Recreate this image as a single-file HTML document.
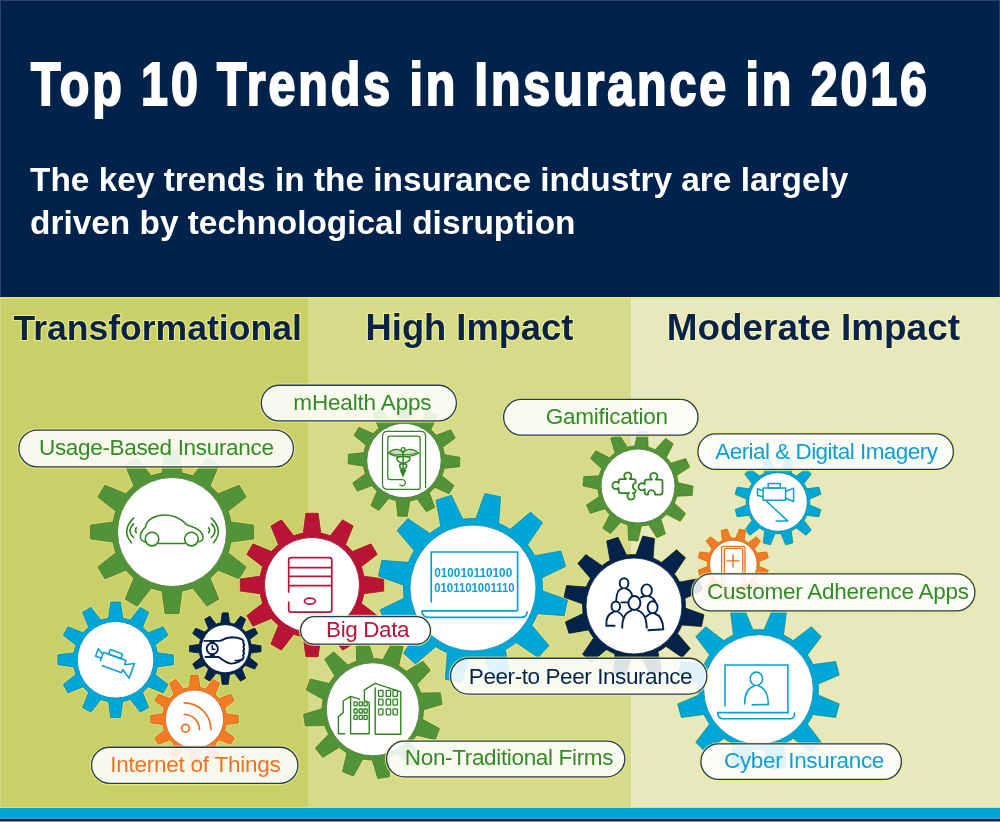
<!DOCTYPE html>
<html><head><meta charset="utf-8"><style>
html,body{margin:0;padding:0;background:#fff;}
body{width:1000px;height:822px;overflow:hidden;}
svg{display:block;font-family:"Liberation Sans",sans-serif;will-change:transform;}
</style></head><body>
<svg width="1000" height="822" viewBox="0 0 1000 822">
<rect x="0" y="0" width="1000" height="297" fill="#00224b"/>
<rect x="0" y="297" width="308" height="511" fill="#c9d06a"/>
<rect x="308" y="297" width="323.5" height="511" fill="#d6db8a"/>
<rect x="631.5" y="297" width="368.5" height="511" fill="#e7e9bd"/>
<rect x="0" y="297" width="1000" height="2" fill="#e9ee66" opacity="0.7"/>
<rect x="0" y="0" width="1" height="808" fill="#fff" opacity="0.16"/>
<rect x="0" y="807" width="1000" height="1.5" fill="#f2dc5a" opacity="0.8"/>
<rect x="0" y="808" width="1000" height="11" fill="#00a6d4"/>
<rect x="0" y="819" width="1000" height="2" fill="#04143c"/>
<rect x="0" y="821" width="1000" height="1" fill="#8e9bb0"/>
<rect x="0" y="0" width="1000" height="1" fill="#2d4568"/>
<rect x="999" y="0" width="1" height="297" fill="#21406a"/>
<g transform="translate(31,105) scale(0.78,1)"><text x="0" y="0" fill="#fff" stroke="#fff" stroke-width="2.2" letter-spacing="3.74" font-size="62" font-weight="700">Top 10 Trends in Insurance in 2016</text></g>
<text x="30" y="191" fill="#fff" font-size="33.4" font-weight="700">The key trends in the insurance industry are largely</text>
<text x="30" y="234" fill="#fff" font-size="33.4" font-weight="700">driven by technological disruption</text>
<text x="13.4" y="340" fill="#0a2148" font-size="35.55" font-weight="700" stroke="rgba(250,248,140,0.75)" stroke-width="2.2" paint-order="stroke">Transformational</text>
<text x="365.6" y="340" fill="#0a2148" font-size="36.3" font-weight="700" stroke="rgba(250,248,140,0.75)" stroke-width="2.2" paint-order="stroke">High Impact</text>
<text x="666.8" y="340" fill="#0a2148" font-size="36.9" font-weight="700" stroke="rgba(250,250,190,0.75)" stroke-width="2.2" paint-order="stroke">Moderate Impact</text>
<path d="M231.01,521.96 L253.70,525.03 L253.70,538.97 L231.01,542.04 L230.48,544.78 L229.82,547.49 L229.04,550.17 L228.13,552.81 L246.24,566.82 L239.27,578.89 L218.08,570.20 L216.25,572.31 L214.33,574.33 L212.31,576.25 L210.20,578.08 L218.89,599.27 L206.82,606.24 L192.81,588.13 L190.17,589.04 L187.49,589.82 L184.78,590.48 L182.05,591.01 L178.97,613.70 L165.03,613.70 L161.95,591.01 L159.22,590.48 L156.51,589.82 L153.83,589.04 L151.19,588.13 L137.18,606.24 L125.11,599.27 L133.80,578.08 L131.69,576.25 L129.67,574.33 L127.75,572.31 L125.92,570.20 L104.73,578.89 L97.76,566.82 L115.87,552.81 L114.96,550.17 L114.18,547.49 L113.52,544.78 L112.99,542.04 L90.30,538.97 L90.30,525.03 L112.99,521.96 L113.52,519.22 L114.18,516.51 L114.96,513.83 L115.87,511.19 L97.76,497.18 L104.73,485.11 L125.92,493.80 L127.75,491.69 L129.67,489.67 L131.69,487.75 L133.80,485.92 L125.11,464.73 L137.18,457.76 L151.19,475.87 L153.83,474.96 L156.51,474.18 L159.22,473.52 L161.95,472.99 L165.03,450.30 L178.97,450.30 L182.04,472.99 L184.78,473.52 L187.49,474.18 L190.17,474.96 L192.81,475.87 L206.82,457.76 L218.89,464.73 L210.20,485.92 L212.31,487.75 L214.33,489.67 L216.25,491.69 L218.08,493.80 L239.27,485.11 L246.24,497.18 L228.13,511.19 L229.04,513.83 L229.82,516.51 L230.48,519.22Z" fill="#52933a" stroke="rgba(245,235,115,0.65)" stroke-width="2.4" paint-order="stroke"/>
<path d="M231.01,521.96 L253.70,525.03 L253.70,538.97 L231.01,542.04 L230.48,544.78 L229.82,547.49 L229.04,550.17 L228.13,552.81 L246.24,566.82 L239.27,578.89 L218.08,570.20 L216.25,572.31 L214.33,574.33 L212.31,576.25 L210.20,578.08 L218.89,599.27 L206.82,606.24 L192.81,588.13 L190.17,589.04 L187.49,589.82 L184.78,590.48 L182.05,591.01 L178.97,613.70 L165.03,613.70 L161.95,591.01 L159.22,590.48 L156.51,589.82 L153.83,589.04 L151.19,588.13 L137.18,606.24 L125.11,599.27 L133.80,578.08 L131.69,576.25 L129.67,574.33 L127.75,572.31 L125.92,570.20 L104.73,578.89 L97.76,566.82 L115.87,552.81 L114.96,550.17 L114.18,547.49 L113.52,544.78 L112.99,542.04 L90.30,538.97 L90.30,525.03 L112.99,521.96 L113.52,519.22 L114.18,516.51 L114.96,513.83 L115.87,511.19 L97.76,497.18 L104.73,485.11 L125.92,493.80 L127.75,491.69 L129.67,489.67 L131.69,487.75 L133.80,485.92 L125.11,464.73 L137.18,457.76 L151.19,475.87 L153.83,474.96 L156.51,474.18 L159.22,473.52 L161.95,472.99 L165.03,450.30 L178.97,450.30 L182.04,472.99 L184.78,473.52 L187.49,474.18 L190.17,474.96 L192.81,475.87 L206.82,457.76 L218.89,464.73 L210.20,485.92 L212.31,487.75 L214.33,489.67 L216.25,491.69 L218.08,493.80 L239.27,485.11 L246.24,497.18 L228.13,511.19 L229.04,513.83 L229.82,516.51 L230.48,519.22Z" fill="none" stroke="#43782f" stroke-width="0.9" stroke-opacity="0.85"/>
<circle cx="172" cy="532" r="58.86" fill="#52933a"/>
<circle cx="172" cy="532" r="54.5" fill="#fff" stroke="#43782f" stroke-width="1" stroke-opacity="0.8"/>
<path d="M363.81,576.18 L383.74,578.88 L383.74,591.12 L363.81,593.82 L363.35,596.22 L362.77,598.60 L362.08,600.95 L361.28,603.27 L377.19,615.57 L371.07,626.17 L352.46,618.55 L350.86,620.39 L349.17,622.17 L347.39,623.86 L345.55,625.46 L353.17,644.07 L342.57,650.19 L330.27,634.28 L327.95,635.08 L325.60,635.77 L323.22,636.35 L320.82,636.81 L318.12,656.74 L305.88,656.74 L303.18,636.81 L300.78,636.35 L298.40,635.77 L296.05,635.08 L293.73,634.28 L281.43,650.19 L270.83,644.07 L278.45,625.46 L276.61,623.86 L274.83,622.17 L273.14,620.39 L271.54,618.55 L252.93,626.17 L246.81,615.57 L262.72,603.27 L261.92,600.95 L261.23,598.60 L260.65,596.22 L260.19,593.82 L240.26,591.12 L240.26,578.88 L260.19,576.18 L260.65,573.78 L261.23,571.40 L261.92,569.05 L262.72,566.73 L246.81,554.43 L252.93,543.83 L271.54,551.45 L273.14,549.61 L274.83,547.83 L276.61,546.14 L278.45,544.54 L270.83,525.93 L281.43,519.81 L293.73,535.72 L296.05,534.92 L298.40,534.23 L300.78,533.65 L303.18,533.19 L305.88,513.26 L318.12,513.26 L320.82,533.19 L323.22,533.65 L325.60,534.23 L327.95,534.92 L330.27,535.72 L342.57,519.81 L353.17,525.93 L345.55,544.54 L347.39,546.14 L349.17,547.83 L350.86,549.61 L352.46,551.45 L371.07,543.83 L377.19,554.43 L361.28,566.73 L362.08,569.05 L362.77,571.40 L363.35,573.78Z" fill="#b91336" stroke="rgba(245,235,115,0.65)" stroke-width="2.4" paint-order="stroke"/>
<path d="M363.81,576.18 L383.74,578.88 L383.74,591.12 L363.81,593.82 L363.35,596.22 L362.77,598.60 L362.08,600.95 L361.28,603.27 L377.19,615.57 L371.07,626.17 L352.46,618.55 L350.86,620.39 L349.17,622.17 L347.39,623.86 L345.55,625.46 L353.17,644.07 L342.57,650.19 L330.27,634.28 L327.95,635.08 L325.60,635.77 L323.22,636.35 L320.82,636.81 L318.12,656.74 L305.88,656.74 L303.18,636.81 L300.78,636.35 L298.40,635.77 L296.05,635.08 L293.73,634.28 L281.43,650.19 L270.83,644.07 L278.45,625.46 L276.61,623.86 L274.83,622.17 L273.14,620.39 L271.54,618.55 L252.93,626.17 L246.81,615.57 L262.72,603.27 L261.92,600.95 L261.23,598.60 L260.65,596.22 L260.19,593.82 L240.26,591.12 L240.26,578.88 L260.19,576.18 L260.65,573.78 L261.23,571.40 L261.92,569.05 L262.72,566.73 L246.81,554.43 L252.93,543.83 L271.54,551.45 L273.14,549.61 L274.83,547.83 L276.61,546.14 L278.45,544.54 L270.83,525.93 L281.43,519.81 L293.73,535.72 L296.05,534.92 L298.40,534.23 L300.78,533.65 L303.18,533.19 L305.88,513.26 L318.12,513.26 L320.82,533.19 L323.22,533.65 L325.60,534.23 L327.95,534.92 L330.27,535.72 L342.57,519.81 L353.17,525.93 L345.55,544.54 L347.39,546.14 L349.17,547.83 L350.86,549.61 L352.46,551.45 L371.07,543.83 L377.19,554.43 L361.28,566.73 L362.08,569.05 L362.77,571.40 L363.35,573.78Z" fill="none" stroke="#970f2c" stroke-width="0.9" stroke-opacity="0.85"/>
<circle cx="312" cy="585" r="51.56" fill="#b91336"/>
<circle cx="312" cy="585" r="47.5" fill="#fff" stroke="#970f2c" stroke-width="1" stroke-opacity="0.8"/>
<path d="M542.51,590.84 L567.56,599.82 L564.20,615.67 L537.66,613.68 L536.39,616.66 L534.99,619.58 L533.45,622.44 L531.78,625.21 L548.99,645.52 L538.15,657.56 L516.16,642.57 L513.57,644.52 L510.89,646.35 L508.13,648.05 L505.30,649.62 L510.05,675.80 L494.64,680.81 L483.09,656.83 L479.87,657.23 L476.64,657.47 L473.40,657.57 L470.16,657.51 L461.18,682.56 L445.33,679.20 L447.32,652.66 L444.34,651.39 L441.42,649.99 L438.56,648.45 L435.79,646.78 L415.48,663.99 L403.44,653.15 L418.43,631.16 L416.48,628.57 L414.65,625.89 L412.95,623.13 L411.38,620.30 L385.20,625.05 L380.19,609.64 L404.17,598.09 L403.77,594.87 L403.53,591.64 L403.43,588.40 L403.49,585.16 L378.44,576.18 L381.80,560.33 L408.34,562.32 L409.61,559.34 L411.01,556.42 L412.55,553.56 L414.22,550.79 L397.01,530.48 L407.85,518.44 L429.84,533.43 L432.43,531.48 L435.11,529.65 L437.87,527.95 L440.70,526.38 L435.95,500.20 L451.36,495.19 L462.91,519.17 L466.13,518.77 L469.36,518.53 L472.60,518.43 L475.84,518.49 L484.82,493.44 L500.67,496.80 L498.68,523.34 L501.66,524.61 L504.58,526.01 L507.44,527.55 L510.21,529.22 L530.52,512.01 L542.56,522.85 L527.57,544.84 L529.52,547.43 L531.35,550.11 L533.05,552.87 L534.62,555.70 L560.80,550.95 L565.81,566.36 L541.83,577.91 L542.23,581.13 L542.47,584.36 L542.57,587.60Z" fill="#00a7d6" stroke="rgba(245,235,115,0.65)" stroke-width="2.4" paint-order="stroke"/>
<path d="M542.51,590.84 L567.56,599.82 L564.20,615.67 L537.66,613.68 L536.39,616.66 L534.99,619.58 L533.45,622.44 L531.78,625.21 L548.99,645.52 L538.15,657.56 L516.16,642.57 L513.57,644.52 L510.89,646.35 L508.13,648.05 L505.30,649.62 L510.05,675.80 L494.64,680.81 L483.09,656.83 L479.87,657.23 L476.64,657.47 L473.40,657.57 L470.16,657.51 L461.18,682.56 L445.33,679.20 L447.32,652.66 L444.34,651.39 L441.42,649.99 L438.56,648.45 L435.79,646.78 L415.48,663.99 L403.44,653.15 L418.43,631.16 L416.48,628.57 L414.65,625.89 L412.95,623.13 L411.38,620.30 L385.20,625.05 L380.19,609.64 L404.17,598.09 L403.77,594.87 L403.53,591.64 L403.43,588.40 L403.49,585.16 L378.44,576.18 L381.80,560.33 L408.34,562.32 L409.61,559.34 L411.01,556.42 L412.55,553.56 L414.22,550.79 L397.01,530.48 L407.85,518.44 L429.84,533.43 L432.43,531.48 L435.11,529.65 L437.87,527.95 L440.70,526.38 L435.95,500.20 L451.36,495.19 L462.91,519.17 L466.13,518.77 L469.36,518.53 L472.60,518.43 L475.84,518.49 L484.82,493.44 L500.67,496.80 L498.68,523.34 L501.66,524.61 L504.58,526.01 L507.44,527.55 L510.21,529.22 L530.52,512.01 L542.56,522.85 L527.57,544.84 L529.52,547.43 L531.35,550.11 L533.05,552.87 L534.62,555.70 L560.80,550.95 L565.81,566.36 L541.83,577.91 L542.23,581.13 L542.47,584.36 L542.57,587.60Z" fill="none" stroke="#0088af" stroke-width="0.9" stroke-opacity="0.85"/>
<circle cx="473" cy="588" r="68.569" fill="#00a7d6"/>
<circle cx="473" cy="588" r="63" fill="#fff" stroke="#0088af" stroke-width="1" stroke-opacity="0.8"/>
<path d="M444.47,454.70 L459.90,457.20 L459.65,466.72 L444.11,468.41 L443.69,470.27 L443.20,472.11 L442.61,473.92 L441.95,475.71 L454.06,485.60 L449.09,493.71 L434.78,487.41 L433.49,488.81 L432.14,490.15 L430.73,491.43 L429.26,492.64 L434.81,507.26 L426.44,511.81 L417.20,499.19 L415.38,499.76 L413.54,500.25 L411.68,500.65 L409.80,500.97 L407.30,516.40 L397.78,516.15 L396.09,500.61 L394.23,500.19 L392.39,499.70 L390.58,499.11 L388.79,498.45 L378.90,510.56 L370.79,505.59 L377.09,491.28 L375.69,489.99 L374.35,488.64 L373.07,487.23 L371.86,485.76 L357.24,491.31 L352.69,482.94 L365.31,473.70 L364.74,471.88 L364.25,470.04 L363.85,468.18 L363.53,466.30 L348.10,463.80 L348.35,454.28 L363.89,452.59 L364.31,450.73 L364.80,448.89 L365.39,447.08 L366.05,445.29 L353.94,435.40 L358.91,427.29 L373.22,433.59 L374.51,432.19 L375.86,430.85 L377.27,429.57 L378.74,428.36 L373.19,413.74 L381.56,409.19 L390.80,421.81 L392.62,421.24 L394.46,420.75 L396.32,420.35 L398.20,420.03 L400.70,404.60 L410.22,404.85 L411.91,420.39 L413.77,420.81 L415.61,421.30 L417.42,421.89 L419.21,422.55 L429.10,410.44 L437.21,415.41 L430.91,429.72 L432.31,431.01 L433.65,432.36 L434.93,433.77 L436.14,435.24 L450.76,429.69 L455.31,438.06 L442.69,447.30 L443.26,449.12 L443.75,450.96 L444.15,452.82Z" fill="#52933a" stroke="rgba(245,235,115,0.65)" stroke-width="2.4" paint-order="stroke"/>
<path d="M444.47,454.70 L459.90,457.20 L459.65,466.72 L444.11,468.41 L443.69,470.27 L443.20,472.11 L442.61,473.92 L441.95,475.71 L454.06,485.60 L449.09,493.71 L434.78,487.41 L433.49,488.81 L432.14,490.15 L430.73,491.43 L429.26,492.64 L434.81,507.26 L426.44,511.81 L417.20,499.19 L415.38,499.76 L413.54,500.25 L411.68,500.65 L409.80,500.97 L407.30,516.40 L397.78,516.15 L396.09,500.61 L394.23,500.19 L392.39,499.70 L390.58,499.11 L388.79,498.45 L378.90,510.56 L370.79,505.59 L377.09,491.28 L375.69,489.99 L374.35,488.64 L373.07,487.23 L371.86,485.76 L357.24,491.31 L352.69,482.94 L365.31,473.70 L364.74,471.88 L364.25,470.04 L363.85,468.18 L363.53,466.30 L348.10,463.80 L348.35,454.28 L363.89,452.59 L364.31,450.73 L364.80,448.89 L365.39,447.08 L366.05,445.29 L353.94,435.40 L358.91,427.29 L373.22,433.59 L374.51,432.19 L375.86,430.85 L377.27,429.57 L378.74,428.36 L373.19,413.74 L381.56,409.19 L390.80,421.81 L392.62,421.24 L394.46,420.75 L396.32,420.35 L398.20,420.03 L400.70,404.60 L410.22,404.85 L411.91,420.39 L413.77,420.81 L415.61,421.30 L417.42,421.89 L419.21,422.55 L429.10,410.44 L437.21,415.41 L430.91,429.72 L432.31,431.01 L433.65,432.36 L434.93,433.77 L436.14,435.24 L450.76,429.69 L455.31,438.06 L442.69,447.30 L443.26,449.12 L443.75,450.96 L444.15,452.82Z" fill="none" stroke="#43782f" stroke-width="0.9" stroke-opacity="0.85"/>
<circle cx="404" cy="460.5" r="39.879999999999995" fill="#52933a"/>
<circle cx="404" cy="460.5" r="37.2" fill="#fff" stroke="#43782f" stroke-width="1" stroke-opacity="0.8"/>
<path d="M678.02,482.74 L693.00,486.12 L692.18,495.43 L676.84,496.16 L676.33,497.96 L675.73,499.73 L675.05,501.47 L674.29,503.18 L685.57,513.60 L680.21,521.26 L666.56,514.22 L665.21,515.52 L663.81,516.76 L662.35,517.93 L660.83,519.02 L665.40,533.69 L656.92,537.64 L648.62,524.72 L646.81,525.17 L644.97,525.54 L643.12,525.82 L641.26,526.02 L637.88,541.00 L628.57,540.18 L627.84,524.84 L626.04,524.33 L624.27,523.73 L622.53,523.05 L620.82,522.29 L610.40,533.57 L602.74,528.21 L609.78,514.56 L608.48,513.21 L607.24,511.81 L606.07,510.35 L604.98,508.83 L590.31,513.40 L586.36,504.92 L599.28,496.62 L598.83,494.81 L598.46,492.97 L598.18,491.12 L597.98,489.26 L583.00,485.88 L583.82,476.57 L599.16,475.84 L599.67,474.04 L600.27,472.27 L600.95,470.53 L601.71,468.82 L590.43,458.40 L595.79,450.74 L609.44,457.78 L610.79,456.48 L612.19,455.24 L613.65,454.07 L615.17,452.98 L610.60,438.31 L619.08,434.36 L627.38,447.28 L629.19,446.83 L631.03,446.46 L632.88,446.18 L634.74,445.98 L638.12,431.00 L647.43,431.82 L648.16,447.16 L649.96,447.67 L651.73,448.27 L653.47,448.95 L655.18,449.71 L665.60,438.43 L673.26,443.79 L666.22,457.44 L667.52,458.79 L668.76,460.19 L669.93,461.65 L671.02,463.17 L685.69,458.60 L689.64,467.08 L676.72,475.38 L677.17,477.19 L677.54,479.03 L677.82,480.88Z" fill="#52933a" stroke="rgba(245,235,115,0.65)" stroke-width="2.4" paint-order="stroke"/>
<path d="M678.02,482.74 L693.00,486.12 L692.18,495.43 L676.84,496.16 L676.33,497.96 L675.73,499.73 L675.05,501.47 L674.29,503.18 L685.57,513.60 L680.21,521.26 L666.56,514.22 L665.21,515.52 L663.81,516.76 L662.35,517.93 L660.83,519.02 L665.40,533.69 L656.92,537.64 L648.62,524.72 L646.81,525.17 L644.97,525.54 L643.12,525.82 L641.26,526.02 L637.88,541.00 L628.57,540.18 L627.84,524.84 L626.04,524.33 L624.27,523.73 L622.53,523.05 L620.82,522.29 L610.40,533.57 L602.74,528.21 L609.78,514.56 L608.48,513.21 L607.24,511.81 L606.07,510.35 L604.98,508.83 L590.31,513.40 L586.36,504.92 L599.28,496.62 L598.83,494.81 L598.46,492.97 L598.18,491.12 L597.98,489.26 L583.00,485.88 L583.82,476.57 L599.16,475.84 L599.67,474.04 L600.27,472.27 L600.95,470.53 L601.71,468.82 L590.43,458.40 L595.79,450.74 L609.44,457.78 L610.79,456.48 L612.19,455.24 L613.65,454.07 L615.17,452.98 L610.60,438.31 L619.08,434.36 L627.38,447.28 L629.19,446.83 L631.03,446.46 L632.88,446.18 L634.74,445.98 L638.12,431.00 L647.43,431.82 L648.16,447.16 L649.96,447.67 L651.73,448.27 L653.47,448.95 L655.18,449.71 L665.60,438.43 L673.26,443.79 L666.22,457.44 L667.52,458.79 L668.76,460.19 L669.93,461.65 L671.02,463.17 L685.69,458.60 L689.64,467.08 L676.72,475.38 L677.17,477.19 L677.54,479.03 L677.82,480.88Z" fill="none" stroke="#43782f" stroke-width="0.9" stroke-opacity="0.85"/>
<circle cx="638" cy="486" r="39.15" fill="#52933a"/>
<circle cx="638" cy="486" r="37" fill="#fff" stroke="#43782f" stroke-width="1" stroke-opacity="0.8"/>
<path d="M685.42,608.10 L703.96,614.74 L701.46,626.47 L681.83,625.00 L680.89,627.20 L679.86,629.36 L678.72,631.48 L677.48,633.53 L690.21,648.55 L682.19,657.46 L665.92,646.37 L664.01,647.81 L662.03,649.16 L659.99,650.42 L657.89,651.58 L661.41,670.96 L650.01,674.66 L641.46,656.92 L639.08,657.21 L636.69,657.39 L634.30,657.46 L631.90,657.42 L625.26,675.96 L613.53,673.46 L615.00,653.83 L612.80,652.89 L610.64,651.86 L608.52,650.72 L606.47,649.48 L591.45,662.21 L582.54,654.19 L593.63,637.92 L592.19,636.01 L590.84,634.03 L589.58,631.99 L588.42,629.89 L569.04,633.41 L565.34,622.01 L583.08,613.46 L582.79,611.08 L582.61,608.69 L582.54,606.30 L582.58,603.90 L564.04,597.26 L566.54,585.53 L586.17,587.00 L587.11,584.80 L588.14,582.64 L589.28,580.52 L590.52,578.47 L577.79,563.45 L585.81,554.54 L602.08,565.63 L603.99,564.19 L605.97,562.84 L608.01,561.58 L610.11,560.42 L606.59,541.04 L617.99,537.34 L626.54,555.08 L628.92,554.79 L631.31,554.61 L633.70,554.54 L636.10,554.58 L642.74,536.04 L654.47,538.54 L653.00,558.17 L655.20,559.11 L657.36,560.14 L659.48,561.28 L661.53,562.52 L676.55,549.79 L685.46,557.81 L674.37,574.08 L675.81,575.99 L677.16,577.97 L678.42,580.01 L679.58,582.11 L698.96,578.59 L702.66,589.99 L684.92,598.54 L685.21,600.92 L685.39,603.31 L685.46,605.70Z" fill="#03234b" stroke="rgba(245,235,115,0.65)" stroke-width="2.4" paint-order="stroke"/>
<path d="M685.42,608.10 L703.96,614.74 L701.46,626.47 L681.83,625.00 L680.89,627.20 L679.86,629.36 L678.72,631.48 L677.48,633.53 L690.21,648.55 L682.19,657.46 L665.92,646.37 L664.01,647.81 L662.03,649.16 L659.99,650.42 L657.89,651.58 L661.41,670.96 L650.01,674.66 L641.46,656.92 L639.08,657.21 L636.69,657.39 L634.30,657.46 L631.90,657.42 L625.26,675.96 L613.53,673.46 L615.00,653.83 L612.80,652.89 L610.64,651.86 L608.52,650.72 L606.47,649.48 L591.45,662.21 L582.54,654.19 L593.63,637.92 L592.19,636.01 L590.84,634.03 L589.58,631.99 L588.42,629.89 L569.04,633.41 L565.34,622.01 L583.08,613.46 L582.79,611.08 L582.61,608.69 L582.54,606.30 L582.58,603.90 L564.04,597.26 L566.54,585.53 L586.17,587.00 L587.11,584.80 L588.14,582.64 L589.28,580.52 L590.52,578.47 L577.79,563.45 L585.81,554.54 L602.08,565.63 L603.99,564.19 L605.97,562.84 L608.01,561.58 L610.11,560.42 L606.59,541.04 L617.99,537.34 L626.54,555.08 L628.92,554.79 L631.31,554.61 L633.70,554.54 L636.10,554.58 L642.74,536.04 L654.47,538.54 L653.00,558.17 L655.20,559.11 L657.36,560.14 L659.48,561.28 L661.53,562.52 L676.55,549.79 L685.46,557.81 L674.37,574.08 L675.81,575.99 L677.16,577.97 L678.42,580.01 L679.58,582.11 L698.96,578.59 L702.66,589.99 L684.92,598.54 L685.21,600.92 L685.39,603.31 L685.46,605.70Z" fill="none" stroke="#021c3d" stroke-width="0.9" stroke-opacity="0.85"/>
<circle cx="634" cy="606" r="50.464999999999996" fill="#03234b"/>
<circle cx="634" cy="606" r="48" fill="#fff" stroke="#021c3d" stroke-width="1" stroke-opacity="0.8"/>
<path d="M809.62,504.96 L820.82,509.65 L818.91,516.79 L806.86,515.25 L806.21,516.58 L805.50,517.88 L804.73,519.14 L803.90,520.37 L811.26,530.03 L806.03,535.26 L796.37,527.90 L795.14,528.73 L793.88,529.50 L792.58,530.21 L791.25,530.86 L792.79,542.91 L785.65,544.82 L780.96,533.62 L779.48,533.72 L778.00,533.75 L776.52,533.72 L775.04,533.62 L770.35,544.82 L763.21,542.91 L764.75,530.86 L763.42,530.21 L762.12,529.50 L760.86,528.73 L759.63,527.90 L749.97,535.26 L744.74,530.03 L752.10,520.37 L751.27,519.14 L750.50,517.88 L749.79,516.58 L749.14,515.25 L737.09,516.79 L735.18,509.65 L746.38,504.96 L746.28,503.48 L746.25,502.00 L746.28,500.52 L746.38,499.04 L735.18,494.35 L737.09,487.21 L749.14,488.75 L749.79,487.42 L750.50,486.12 L751.27,484.86 L752.10,483.63 L744.74,473.97 L749.97,468.74 L759.63,476.10 L760.86,475.27 L762.12,474.50 L763.42,473.79 L764.75,473.14 L763.21,461.09 L770.35,459.18 L775.04,470.38 L776.52,470.28 L778.00,470.25 L779.48,470.28 L780.96,470.38 L785.65,459.18 L792.79,461.09 L791.25,473.14 L792.58,473.79 L793.88,474.50 L795.14,475.27 L796.37,476.10 L806.03,468.74 L811.26,473.97 L803.90,483.63 L804.73,484.86 L805.50,486.12 L806.21,487.42 L806.86,488.75 L818.91,487.21 L820.82,494.35 L809.62,499.04 L809.72,500.52 L809.75,502.00 L809.72,503.48Z" fill="#00a7d6" stroke="rgba(245,235,115,0.65)" stroke-width="2.4" paint-order="stroke"/>
<path d="M809.62,504.96 L820.82,509.65 L818.91,516.79 L806.86,515.25 L806.21,516.58 L805.50,517.88 L804.73,519.14 L803.90,520.37 L811.26,530.03 L806.03,535.26 L796.37,527.90 L795.14,528.73 L793.88,529.50 L792.58,530.21 L791.25,530.86 L792.79,542.91 L785.65,544.82 L780.96,533.62 L779.48,533.72 L778.00,533.75 L776.52,533.72 L775.04,533.62 L770.35,544.82 L763.21,542.91 L764.75,530.86 L763.42,530.21 L762.12,529.50 L760.86,528.73 L759.63,527.90 L749.97,535.26 L744.74,530.03 L752.10,520.37 L751.27,519.14 L750.50,517.88 L749.79,516.58 L749.14,515.25 L737.09,516.79 L735.18,509.65 L746.38,504.96 L746.28,503.48 L746.25,502.00 L746.28,500.52 L746.38,499.04 L735.18,494.35 L737.09,487.21 L749.14,488.75 L749.79,487.42 L750.50,486.12 L751.27,484.86 L752.10,483.63 L744.74,473.97 L749.97,468.74 L759.63,476.10 L760.86,475.27 L762.12,474.50 L763.42,473.79 L764.75,473.14 L763.21,461.09 L770.35,459.18 L775.04,470.38 L776.52,470.28 L778.00,470.25 L779.48,470.28 L780.96,470.38 L785.65,459.18 L792.79,461.09 L791.25,473.14 L792.58,473.79 L793.88,474.50 L795.14,475.27 L796.37,476.10 L806.03,468.74 L811.26,473.97 L803.90,483.63 L804.73,484.86 L805.50,486.12 L806.21,487.42 L806.86,488.75 L818.91,487.21 L820.82,494.35 L809.62,499.04 L809.72,500.52 L809.75,502.00 L809.72,503.48Z" fill="none" stroke="#0088af" stroke-width="0.9" stroke-opacity="0.85"/>
<circle cx="778" cy="502" r="30.755" fill="#00a7d6"/>
<circle cx="778" cy="502" r="29.3" fill="#fff" stroke="#0088af" stroke-width="1" stroke-opacity="0.8"/>
<path d="M759.10,566.41 L768.25,570.24 L766.69,576.07 L756.85,574.81 L756.32,575.90 L755.74,576.96 L755.12,577.99 L754.44,578.99 L760.45,586.88 L756.18,591.15 L748.29,585.14 L747.29,585.82 L746.26,586.44 L745.20,587.02 L744.11,587.55 L745.37,597.39 L739.54,598.95 L735.71,589.80 L734.51,589.89 L733.30,589.91 L732.09,589.89 L730.89,589.80 L727.06,598.95 L721.23,597.39 L722.49,587.55 L721.40,587.02 L720.34,586.44 L719.31,585.82 L718.31,585.14 L710.42,591.15 L706.15,586.88 L712.16,578.99 L711.48,577.99 L710.86,576.96 L710.28,575.90 L709.75,574.81 L699.91,576.07 L698.35,570.24 L707.50,566.41 L707.41,565.21 L707.38,564.00 L707.41,562.79 L707.50,561.59 L698.35,557.76 L699.91,551.93 L709.75,553.19 L710.28,552.10 L710.86,551.04 L711.48,550.01 L712.16,549.01 L706.15,541.12 L710.42,536.85 L718.31,542.86 L719.31,542.18 L720.34,541.56 L721.40,540.98 L722.49,540.45 L721.23,530.61 L727.06,529.05 L730.89,538.20 L732.09,538.11 L733.30,538.09 L734.51,538.11 L735.71,538.20 L739.54,529.05 L745.37,530.61 L744.11,540.45 L745.20,540.98 L746.26,541.56 L747.29,542.18 L748.29,542.86 L756.18,536.85 L760.45,541.12 L754.44,549.01 L755.12,550.01 L755.74,551.04 L756.32,552.10 L756.85,553.19 L766.69,551.93 L768.25,557.76 L759.10,561.59 L759.19,562.79 L759.21,564.00 L759.19,565.21Z" fill="#f47b25" stroke="rgba(245,235,115,0.65)" stroke-width="2.4" paint-order="stroke"/>
<path d="M759.10,566.41 L768.25,570.24 L766.69,576.07 L756.85,574.81 L756.32,575.90 L755.74,576.96 L755.12,577.99 L754.44,578.99 L760.45,586.88 L756.18,591.15 L748.29,585.14 L747.29,585.82 L746.26,586.44 L745.20,587.02 L744.11,587.55 L745.37,597.39 L739.54,598.95 L735.71,589.80 L734.51,589.89 L733.30,589.91 L732.09,589.89 L730.89,589.80 L727.06,598.95 L721.23,597.39 L722.49,587.55 L721.40,587.02 L720.34,586.44 L719.31,585.82 L718.31,585.14 L710.42,591.15 L706.15,586.88 L712.16,578.99 L711.48,577.99 L710.86,576.96 L710.28,575.90 L709.75,574.81 L699.91,576.07 L698.35,570.24 L707.50,566.41 L707.41,565.21 L707.38,564.00 L707.41,562.79 L707.50,561.59 L698.35,557.76 L699.91,551.93 L709.75,553.19 L710.28,552.10 L710.86,551.04 L711.48,550.01 L712.16,549.01 L706.15,541.12 L710.42,536.85 L718.31,542.86 L719.31,542.18 L720.34,541.56 L721.40,540.98 L722.49,540.45 L721.23,530.61 L727.06,529.05 L730.89,538.20 L732.09,538.11 L733.30,538.09 L734.51,538.11 L735.71,538.20 L739.54,529.05 L745.37,530.61 L744.11,540.45 L745.20,540.98 L746.26,541.56 L747.29,542.18 L748.29,542.86 L756.18,536.85 L760.45,541.12 L754.44,549.01 L755.12,550.01 L755.74,551.04 L756.32,552.10 L756.85,553.19 L766.69,551.93 L768.25,557.76 L759.10,561.59 L759.19,562.79 L759.21,564.00 L759.19,565.21Z" fill="none" stroke="#c8641e" stroke-width="0.9" stroke-opacity="0.85"/>
<circle cx="733.3" cy="564" r="24.915" fill="#f47b25"/>
<circle cx="733.3" cy="564" r="23.8" fill="#fff" stroke="#c8641e" stroke-width="1" stroke-opacity="0.8"/>
<path d="M818.10,695.07 L839.22,703.91 L835.62,717.38 L812.90,714.48 L811.68,716.98 L810.34,719.43 L808.89,721.81 L807.33,724.12 L821.20,742.34 L811.34,752.20 L793.12,738.33 L790.81,739.89 L788.43,741.34 L785.98,742.68 L783.48,743.90 L786.38,766.62 L772.91,770.22 L764.07,749.10 L761.29,749.30 L758.50,749.36 L755.71,749.30 L752.93,749.10 L744.09,770.22 L730.62,766.62 L733.52,743.90 L731.02,742.68 L728.57,741.34 L726.19,739.89 L723.88,738.33 L705.66,752.20 L695.80,742.34 L709.67,724.12 L708.11,721.81 L706.66,719.43 L705.32,716.98 L704.10,714.48 L681.38,717.38 L677.78,703.91 L698.90,695.07 L698.70,692.29 L698.64,689.50 L698.70,686.71 L698.90,683.93 L677.78,675.09 L681.38,661.62 L704.10,664.52 L705.32,662.02 L706.66,659.57 L708.11,657.19 L709.67,654.88 L695.80,636.66 L705.66,626.80 L723.88,640.67 L726.19,639.11 L728.57,637.66 L731.02,636.32 L733.52,635.10 L730.62,612.38 L744.09,608.78 L752.93,629.90 L755.71,629.70 L758.50,629.64 L761.29,629.70 L764.07,629.90 L772.91,608.78 L786.38,612.38 L783.48,635.10 L785.98,636.32 L788.43,637.66 L790.81,639.11 L793.12,640.67 L811.34,626.80 L821.20,636.66 L807.33,654.88 L808.89,657.19 L810.34,659.57 L811.68,662.02 L812.90,664.52 L835.62,661.62 L839.22,675.09 L818.10,683.93 L818.30,686.71 L818.36,689.50 L818.30,692.29Z" fill="#00a7d6" stroke="rgba(245,235,115,0.65)" stroke-width="2.4" paint-order="stroke"/>
<path d="M818.10,695.07 L839.22,703.91 L835.62,717.38 L812.90,714.48 L811.68,716.98 L810.34,719.43 L808.89,721.81 L807.33,724.12 L821.20,742.34 L811.34,752.20 L793.12,738.33 L790.81,739.89 L788.43,741.34 L785.98,742.68 L783.48,743.90 L786.38,766.62 L772.91,770.22 L764.07,749.10 L761.29,749.30 L758.50,749.36 L755.71,749.30 L752.93,749.10 L744.09,770.22 L730.62,766.62 L733.52,743.90 L731.02,742.68 L728.57,741.34 L726.19,739.89 L723.88,738.33 L705.66,752.20 L695.80,742.34 L709.67,724.12 L708.11,721.81 L706.66,719.43 L705.32,716.98 L704.10,714.48 L681.38,717.38 L677.78,703.91 L698.90,695.07 L698.70,692.29 L698.64,689.50 L698.70,686.71 L698.90,683.93 L677.78,675.09 L681.38,661.62 L704.10,664.52 L705.32,662.02 L706.66,659.57 L708.11,657.19 L709.67,654.88 L695.80,636.66 L705.66,626.80 L723.88,640.67 L726.19,639.11 L728.57,637.66 L731.02,636.32 L733.52,635.10 L730.62,612.38 L744.09,608.78 L752.93,629.90 L755.71,629.70 L758.50,629.64 L761.29,629.70 L764.07,629.90 L772.91,608.78 L786.38,612.38 L783.48,635.10 L785.98,636.32 L788.43,637.66 L790.81,639.11 L793.12,640.67 L811.34,626.80 L821.20,636.66 L807.33,654.88 L808.89,657.19 L810.34,659.57 L811.68,662.02 L812.90,664.52 L835.62,661.62 L839.22,675.09 L818.10,683.93 L818.30,686.71 L818.36,689.50 L818.30,692.29Z" fill="none" stroke="#0088af" stroke-width="0.9" stroke-opacity="0.85"/>
<circle cx="758.5" cy="689.5" r="58.86" fill="#00a7d6"/>
<circle cx="758.5" cy="689.5" r="54.8" fill="#fff" stroke="#0088af" stroke-width="1" stroke-opacity="0.8"/>
<path d="M157.34,652.69 L173.39,654.87 L173.39,664.73 L157.34,666.90 L156.96,668.84 L156.50,670.76 L155.94,672.65 L155.30,674.52 L168.11,684.43 L163.18,692.96 L148.20,686.82 L146.90,688.31 L145.54,689.74 L144.11,691.10 L142.62,692.40 L148.76,707.38 L140.23,712.31 L130.32,699.50 L128.45,700.14 L126.56,700.70 L124.64,701.16 L122.70,701.54 L120.53,717.59 L110.67,717.59 L108.49,701.54 L106.56,701.16 L104.64,700.70 L102.75,700.14 L100.88,699.50 L90.97,712.31 L82.44,707.38 L88.58,692.40 L87.09,691.10 L85.66,689.74 L84.30,688.31 L83.00,686.82 L68.02,692.96 L63.09,684.43 L75.90,674.52 L75.26,672.65 L74.70,670.76 L74.24,668.84 L73.86,666.90 L57.81,664.73 L57.81,654.87 L73.86,652.69 L74.24,650.76 L74.70,648.84 L75.26,646.95 L75.90,645.08 L63.09,635.17 L68.02,626.64 L83.00,632.78 L84.30,631.29 L85.66,629.86 L87.09,628.50 L88.58,627.20 L82.44,612.22 L90.97,607.29 L100.88,620.10 L102.75,619.46 L104.64,618.90 L106.56,618.44 L108.49,618.06 L110.67,602.01 L120.53,602.01 L122.70,618.06 L124.64,618.44 L126.56,618.90 L128.45,619.46 L130.32,620.10 L140.23,607.29 L148.76,612.22 L142.62,627.20 L144.11,628.50 L145.54,629.86 L146.90,631.29 L148.20,632.78 L163.18,626.64 L168.11,635.17 L155.30,645.08 L155.94,646.95 L156.50,648.84 L156.96,650.76Z" fill="#00a7d6" stroke="rgba(245,235,115,0.65)" stroke-width="2.4" paint-order="stroke"/>
<path d="M157.34,652.69 L173.39,654.87 L173.39,664.73 L157.34,666.90 L156.96,668.84 L156.50,670.76 L155.94,672.65 L155.30,674.52 L168.11,684.43 L163.18,692.96 L148.20,686.82 L146.90,688.31 L145.54,689.74 L144.11,691.10 L142.62,692.40 L148.76,707.38 L140.23,712.31 L130.32,699.50 L128.45,700.14 L126.56,700.70 L124.64,701.16 L122.70,701.54 L120.53,717.59 L110.67,717.59 L108.49,701.54 L106.56,701.16 L104.64,700.70 L102.75,700.14 L100.88,699.50 L90.97,712.31 L82.44,707.38 L88.58,692.40 L87.09,691.10 L85.66,689.74 L84.30,688.31 L83.00,686.82 L68.02,692.96 L63.09,684.43 L75.90,674.52 L75.26,672.65 L74.70,670.76 L74.24,668.84 L73.86,666.90 L57.81,664.73 L57.81,654.87 L73.86,652.69 L74.24,650.76 L74.70,648.84 L75.26,646.95 L75.90,645.08 L63.09,635.17 L68.02,626.64 L83.00,632.78 L84.30,631.29 L85.66,629.86 L87.09,628.50 L88.58,627.20 L82.44,612.22 L90.97,607.29 L100.88,620.10 L102.75,619.46 L104.64,618.90 L106.56,618.44 L108.49,618.06 L110.67,602.01 L120.53,602.01 L122.70,618.06 L124.64,618.44 L126.56,618.90 L128.45,619.46 L130.32,620.10 L140.23,607.29 L148.76,612.22 L142.62,627.20 L144.11,628.50 L145.54,629.86 L146.90,631.29 L148.20,632.78 L163.18,626.64 L168.11,635.17 L155.30,645.08 L155.94,646.95 L156.50,648.84 L156.96,650.76Z" fill="none" stroke="#0088af" stroke-width="0.9" stroke-opacity="0.85"/>
<circle cx="115.6" cy="659.8" r="41.339999999999996" fill="#00a7d6"/>
<circle cx="115.6" cy="659.8" r="38.3" fill="#fff" stroke="#0088af" stroke-width="1" stroke-opacity="0.8"/>
<path d="M251.11,644.29 L261.07,645.64 L261.07,651.76 L251.11,653.11 L250.87,654.31 L250.58,655.50 L250.24,656.68 L249.84,657.83 L257.79,663.98 L254.73,669.28 L245.43,665.47 L244.63,666.40 L243.78,667.28 L242.90,668.13 L241.97,668.93 L245.78,678.23 L240.48,681.29 L234.33,673.34 L233.18,673.74 L232.00,674.08 L230.81,674.37 L229.61,674.61 L228.26,684.57 L222.14,684.57 L220.79,674.61 L219.59,674.37 L218.40,674.08 L217.22,673.74 L216.07,673.34 L209.92,681.29 L204.62,678.23 L208.43,668.93 L207.50,668.13 L206.62,667.28 L205.77,666.40 L204.97,665.47 L195.67,669.28 L192.61,663.98 L200.56,657.83 L200.16,656.68 L199.82,655.50 L199.53,654.31 L199.29,653.11 L189.33,651.76 L189.33,645.64 L199.29,644.29 L199.53,643.09 L199.82,641.90 L200.16,640.72 L200.56,639.57 L192.61,633.42 L195.67,628.12 L204.97,631.93 L205.77,631.00 L206.62,630.12 L207.50,629.27 L208.43,628.47 L204.62,619.17 L209.92,616.11 L216.07,624.06 L217.22,623.66 L218.40,623.32 L219.59,623.03 L220.79,622.79 L222.14,612.83 L228.26,612.83 L229.61,622.79 L230.81,623.03 L232.00,623.32 L233.18,623.66 L234.33,624.06 L240.48,616.11 L245.78,619.17 L241.97,628.47 L242.90,629.27 L243.78,630.12 L244.63,631.00 L245.43,631.93 L254.73,628.12 L257.79,633.42 L249.84,639.57 L250.24,640.72 L250.58,641.90 L250.87,643.09Z" fill="#03234b" stroke="rgba(245,235,115,0.65)" stroke-width="2.4" paint-order="stroke"/>
<path d="M251.11,644.29 L261.07,645.64 L261.07,651.76 L251.11,653.11 L250.87,654.31 L250.58,655.50 L250.24,656.68 L249.84,657.83 L257.79,663.98 L254.73,669.28 L245.43,665.47 L244.63,666.40 L243.78,667.28 L242.90,668.13 L241.97,668.93 L245.78,678.23 L240.48,681.29 L234.33,673.34 L233.18,673.74 L232.00,674.08 L230.81,674.37 L229.61,674.61 L228.26,684.57 L222.14,684.57 L220.79,674.61 L219.59,674.37 L218.40,674.08 L217.22,673.74 L216.07,673.34 L209.92,681.29 L204.62,678.23 L208.43,668.93 L207.50,668.13 L206.62,667.28 L205.77,666.40 L204.97,665.47 L195.67,669.28 L192.61,663.98 L200.56,657.83 L200.16,656.68 L199.82,655.50 L199.53,654.31 L199.29,653.11 L189.33,651.76 L189.33,645.64 L199.29,644.29 L199.53,643.09 L199.82,641.90 L200.16,640.72 L200.56,639.57 L192.61,633.42 L195.67,628.12 L204.97,631.93 L205.77,631.00 L206.62,630.12 L207.50,629.27 L208.43,628.47 L204.62,619.17 L209.92,616.11 L216.07,624.06 L217.22,623.66 L218.40,623.32 L219.59,623.03 L220.79,622.79 L222.14,612.83 L228.26,612.83 L229.61,622.79 L230.81,623.03 L232.00,623.32 L233.18,623.66 L234.33,624.06 L240.48,616.11 L245.78,619.17 L241.97,628.47 L242.90,629.27 L243.78,630.12 L244.63,631.00 L245.43,631.93 L254.73,628.12 L257.79,633.42 L249.84,639.57 L250.24,640.72 L250.58,641.90 L250.87,643.09Z" fill="none" stroke="#021c3d" stroke-width="0.9" stroke-opacity="0.85"/>
<circle cx="225.2" cy="648.7" r="25.28" fill="#03234b"/>
<circle cx="225.2" cy="648.7" r="24" fill="#fff" stroke="#021c3d" stroke-width="1" stroke-opacity="0.8"/>
<path d="M226.16,713.81 L238.34,715.46 L238.34,722.94 L226.16,724.59 L225.88,726.06 L225.53,727.51 L225.10,728.95 L224.62,730.36 L234.34,737.88 L230.60,744.36 L219.23,739.70 L218.25,740.83 L217.21,741.91 L216.13,742.95 L215.00,743.93 L219.66,755.30 L213.18,759.04 L205.66,749.32 L204.25,749.80 L202.81,750.23 L201.36,750.58 L199.89,750.86 L198.24,763.04 L190.76,763.04 L189.11,750.86 L187.64,750.58 L186.19,750.23 L184.75,749.80 L183.34,749.32 L175.82,759.04 L169.34,755.30 L174.00,743.93 L172.87,742.95 L171.79,741.91 L170.75,740.83 L169.77,739.70 L158.40,744.36 L154.66,737.88 L164.38,730.36 L163.90,728.95 L163.47,727.51 L163.12,726.06 L162.84,724.59 L150.66,722.94 L150.66,715.46 L162.84,713.81 L163.12,712.34 L163.47,710.89 L163.90,709.45 L164.38,708.04 L154.66,700.52 L158.40,694.04 L169.77,698.70 L170.75,697.57 L171.79,696.49 L172.87,695.45 L174.00,694.47 L169.34,683.10 L175.82,679.36 L183.34,689.08 L184.75,688.60 L186.19,688.17 L187.64,687.82 L189.11,687.54 L190.76,675.36 L198.24,675.36 L199.89,687.54 L201.36,687.82 L202.81,688.17 L204.25,688.60 L205.66,689.08 L213.18,679.36 L219.66,683.10 L215.00,694.47 L216.13,695.45 L217.21,696.49 L218.25,697.57 L219.23,698.70 L230.60,694.04 L234.34,700.52 L224.62,708.04 L225.10,709.45 L225.53,710.89 L225.88,712.34Z" fill="#f47b25" stroke="rgba(245,235,115,0.65)" stroke-width="2.4" paint-order="stroke"/>
<path d="M226.16,713.81 L238.34,715.46 L238.34,722.94 L226.16,724.59 L225.88,726.06 L225.53,727.51 L225.10,728.95 L224.62,730.36 L234.34,737.88 L230.60,744.36 L219.23,739.70 L218.25,740.83 L217.21,741.91 L216.13,742.95 L215.00,743.93 L219.66,755.30 L213.18,759.04 L205.66,749.32 L204.25,749.80 L202.81,750.23 L201.36,750.58 L199.89,750.86 L198.24,763.04 L190.76,763.04 L189.11,750.86 L187.64,750.58 L186.19,750.23 L184.75,749.80 L183.34,749.32 L175.82,759.04 L169.34,755.30 L174.00,743.93 L172.87,742.95 L171.79,741.91 L170.75,740.83 L169.77,739.70 L158.40,744.36 L154.66,737.88 L164.38,730.36 L163.90,728.95 L163.47,727.51 L163.12,726.06 L162.84,724.59 L150.66,722.94 L150.66,715.46 L162.84,713.81 L163.12,712.34 L163.47,710.89 L163.90,709.45 L164.38,708.04 L154.66,700.52 L158.40,694.04 L169.77,698.70 L170.75,697.57 L171.79,696.49 L172.87,695.45 L174.00,694.47 L169.34,683.10 L175.82,679.36 L183.34,689.08 L184.75,688.60 L186.19,688.17 L187.64,687.82 L189.11,687.54 L190.76,675.36 L198.24,675.36 L199.89,687.54 L201.36,687.82 L202.81,688.17 L204.25,688.60 L205.66,689.08 L213.18,679.36 L219.66,683.10 L215.00,694.47 L216.13,695.45 L217.21,696.49 L218.25,697.57 L219.23,698.70 L230.60,694.04 L234.34,700.52 L224.62,708.04 L225.10,709.45 L225.53,710.89 L225.88,712.34Z" fill="none" stroke="#c8641e" stroke-width="0.9" stroke-opacity="0.85"/>
<circle cx="194.5" cy="719.2" r="31.119999999999997" fill="#f47b25"/>
<circle cx="194.5" cy="719.2" r="29.1" fill="#fff" stroke="#c8641e" stroke-width="1" stroke-opacity="0.8"/>
<path d="M422.54,719.28 L439.57,728.60 L435.33,739.63 L416.44,735.17 L415.19,737.18 L413.85,739.12 L412.41,741.00 L410.89,742.81 L420.97,759.40 L411.79,766.83 L397.66,753.53 L395.57,754.64 L393.44,755.65 L391.25,756.56 L389.03,757.37 L389.47,776.77 L377.80,778.62 L372.22,760.03 L369.85,759.95 L367.50,759.76 L365.15,759.46 L362.82,759.04 L353.50,776.07 L342.47,771.83 L346.93,752.94 L344.92,751.69 L342.98,750.35 L341.10,748.91 L339.29,747.39 L322.70,757.47 L315.27,748.29 L328.57,734.16 L327.46,732.07 L326.45,729.94 L325.54,727.75 L324.73,725.53 L305.33,725.97 L303.48,714.30 L322.07,708.72 L322.15,706.35 L322.34,704.00 L322.64,701.65 L323.06,699.32 L306.03,690.00 L310.27,678.97 L329.16,683.43 L330.41,681.42 L331.75,679.48 L333.19,677.60 L334.71,675.79 L324.63,659.20 L333.81,651.77 L347.94,665.07 L350.03,663.96 L352.16,662.95 L354.35,662.04 L356.57,661.23 L356.13,641.83 L367.80,639.98 L373.38,658.57 L375.75,658.65 L378.10,658.84 L380.45,659.14 L382.78,659.56 L392.10,642.53 L403.13,646.77 L398.67,665.66 L400.68,666.91 L402.62,668.25 L404.50,669.69 L406.31,671.21 L422.90,661.13 L430.33,670.31 L417.03,684.44 L418.14,686.53 L419.15,688.66 L420.06,690.85 L420.87,693.07 L440.27,692.63 L442.12,704.30 L423.53,709.88 L423.45,712.25 L423.26,714.60 L422.96,716.95Z" fill="#52933a" stroke="rgba(245,235,115,0.65)" stroke-width="2.4" paint-order="stroke"/>
<path d="M422.54,719.28 L439.57,728.60 L435.33,739.63 L416.44,735.17 L415.19,737.18 L413.85,739.12 L412.41,741.00 L410.89,742.81 L420.97,759.40 L411.79,766.83 L397.66,753.53 L395.57,754.64 L393.44,755.65 L391.25,756.56 L389.03,757.37 L389.47,776.77 L377.80,778.62 L372.22,760.03 L369.85,759.95 L367.50,759.76 L365.15,759.46 L362.82,759.04 L353.50,776.07 L342.47,771.83 L346.93,752.94 L344.92,751.69 L342.98,750.35 L341.10,748.91 L339.29,747.39 L322.70,757.47 L315.27,748.29 L328.57,734.16 L327.46,732.07 L326.45,729.94 L325.54,727.75 L324.73,725.53 L305.33,725.97 L303.48,714.30 L322.07,708.72 L322.15,706.35 L322.34,704.00 L322.64,701.65 L323.06,699.32 L306.03,690.00 L310.27,678.97 L329.16,683.43 L330.41,681.42 L331.75,679.48 L333.19,677.60 L334.71,675.79 L324.63,659.20 L333.81,651.77 L347.94,665.07 L350.03,663.96 L352.16,662.95 L354.35,662.04 L356.57,661.23 L356.13,641.83 L367.80,639.98 L373.38,658.57 L375.75,658.65 L378.10,658.84 L380.45,659.14 L382.78,659.56 L392.10,642.53 L403.13,646.77 L398.67,665.66 L400.68,666.91 L402.62,668.25 L404.50,669.69 L406.31,671.21 L422.90,661.13 L430.33,670.31 L417.03,684.44 L418.14,686.53 L419.15,688.66 L420.06,690.85 L420.87,693.07 L440.27,692.63 L442.12,704.30 L423.53,709.88 L423.45,712.25 L423.26,714.60 L422.96,716.95Z" fill="none" stroke="#43782f" stroke-width="0.9" stroke-opacity="0.85"/>
<circle cx="372.8" cy="709.3" r="49.735" fill="#52933a"/>
<circle cx="372.8" cy="709.3" r="46.5" fill="#fff" stroke="#43782f" stroke-width="1" stroke-opacity="0.8"/>
<g fill="none" stroke="#2f8420" stroke-width="1.55" stroke-linecap="round" stroke-linejoin="round">
<path d="M146.2,542.3 C141.5,541.5 139.5,538 140.5,534.5 C141.5,531 144,528.5 145.5,527 C146.5,519 156,515 165,515 C174,515 181,518.5 187.2,525 C195,527.5 203,530.5 203,537.5 C203,540.5 200.5,541.7 198.7,541.7"/>
<circle cx="152" cy="539.1" r="6.8"/><circle cx="191.4" cy="539.1" r="6.8"/>
<path d="M158.8,543.5 L184.6,543.5"/>
<path d="M133.6,518.1 Q121,530.5 131.5,542.8"/><path d="M133.6,523.9 Q126.5,530.7 133.6,537.5"/><path d="M136.3,527.6 Q134.6,530.2 136.3,532.8"/>
<path d="M211.4,518.1 Q224,530.5 213.5,542.8"/><path d="M211.4,523.9 Q218.5,530.7 211.4,537.5"/><path d="M208.7,527.6 Q210.4,530.2 208.7,532.8"/>
</g>
<g fill="none" stroke="#b8143a" stroke-width="1.7">
<path d="M288.7,592.7 L288.7,560.1 Q288.7,557.7 291.1,557.7 L329.4,557.7 Q331.8,557.7 331.8,560.1 L331.8,609.8 Q331.8,612.2 329.4,612.2 L291.1,612.2 Q288.7,612.2 288.7,609.8 L288.7,601.4"/>
<path d="M288.7,567.6 H331.8 M288.7,576.3 H331.8 M288.7,585.7 H331.8"/>
<ellipse cx="309.9" cy="601.2" rx="5.4" ry="3"/>
</g>
<g fill="none" stroke="#2f8420" stroke-width="1.25">
<path d="M425.6,488 L425.6,436.4 Q425.6,431.4 420.6,431.4 L387.5,431.4 Q382.5,431.4 382.5,436.4 L382.5,484.3 Q382.5,489.3 387.5,489.3 L418,489.3 Q420.1,489.3 420.1,487 L420.1,438.5 Q420.1,436.1 417.7,436.1 L390.2,436.1 Q387.8,436.1 387.8,438.5 L387.8,477.5 Q387.8,479.5 390,479.5 L402.5,479.5 A3.2,3.2 0 1 1 399.5,484.5"/>
<path d="M388.2,453 Q393,448.5 398,449.5 Q401,450.5 403,452.5 Q405,450.5 408,449.5 Q413,448.5 418.8,453 Q413,456.8 403,456.4 Q393,456.8 388.2,453Z" fill="#2f8420" fill-opacity="0.25"/>
<path d="M390,453.2 Q396,455 403,454.6 Q410,455 416.8,453.2" stroke-width="0.9"/>
<circle cx="403.1" cy="449.4" r="1.9"/>
<path d="M403.1,451.5 L403.1,476" stroke-width="1.5"/>
<path d="M397,457.5 Q403,455.5 409.8,457.5 Q411,461.5 403,463.5 Q396,461.5 397,457.5Z" stroke-width="1.6"/>
<path d="M400,464.5 Q403,462.8 406.5,464.5 Q407.5,468 403,469.5 Q399,468 400,464.5Z" stroke-width="1.6"/>
<path d="M400.3,470 L403,476 L405.7,470Z" fill="#2f8420" stroke-width="1.2"/>
</g>
<g fill="none" stroke="#0d9fd4" stroke-width="1.7">
<path d="M431.2,602.4 L431.2,552 L517.6,552 L517.6,610.8"/>
<path d="M421.6,610.8 L517.6,610.8 M421.6,610.8 Q422.5,617.4 429,617.4 L521,617.4 Q527,617.4 527.2,611.4"/>
</g>
<g fill="#0d9fd4" font-family="Liberation Sans" font-weight="700" font-size="12.6">
<text x="434.2" y="576.6" textLength="78" lengthAdjust="spacingAndGlyphs">010010110100</text>
<text x="434.2" y="591.6" textLength="80.4" lengthAdjust="spacingAndGlyphs">0101101001110</text>
</g>
<g fill="none" stroke="#03234b" stroke-width="1.9" stroke-linecap="round">
<ellipse cx="624.1" cy="583.3" rx="4.4" ry="5.1"/>
<path d="M616.2,600.5 Q616.5,589.5 622,588.6 M626,588.6 Q631,590 632.3,596"/>
<ellipse cx="646.7" cy="590.4" rx="5.2" ry="6"/>
<path d="M640.5,597.5 Q642.5,596.5 644.5,596.2 M649,596.2 Q653,597.5 655.3,601.5"/>
<ellipse cx="615.8" cy="606.5" rx="4.3" ry="5"/>
<path d="M606.3,625.8 Q605.5,614.5 613.5,612 M618,612 Q621.5,613.5 622.9,616.7 M606.3,625.8 L614.6,625.8"/>
<path d="M621.4,602.4 L627.7,602.4"/>
<ellipse cx="634.4" cy="603" rx="6" ry="7"/>
<path d="M622.2,627.8 Q622,614 631.5,610.4 M637.5,610.4 Q646.5,613 646.7,627.8"/>
<ellipse cx="652.6" cy="607.3" rx="5" ry="6"/>
<path d="M645.9,616.7 Q648.5,614.5 650.8,613.5 M654.6,613.5 Q662.8,616 663.3,629.3 L648.3,630.2"/>
</g>
<g fill="none" stroke="#2f8420" stroke-width="1.75" stroke-linejoin="round">
<path d="M618.7,483.2 L618.7,481 Q618.7,479 620.7,479 L626,479 A3.6,3.6 0 1 1 629.6,479 L633.6,479 Q635.6,479 635.6,481 L635.6,483 A3.6,3.6 0 0 0 635.6,490 L635.6,491 Q635.6,493 633.6,493 L632.8,493 A3.6,3.6 0 1 1 629.2,493 L620.7,493 Q618.7,493 618.7,491 L618.7,487.8 A3.6,3.6 0 1 1 618.7,483.2Z"/>
<path d="M644.7,484.4 L644.7,481.6 Q644.7,479.6 646.7,479.6 L652,479.6 A3.6,3.6 0 1 1 655.6,479.6 L660.5,479.6 Q662.5,479.6 662.5,481.6 L662.5,492.6 Q662.5,494.6 660.5,494.6 L655,494.6 A3.6,3.6 0 1 0 648,494.6 L646.7,494.6 Q644.7,494.6 644.7,492.6 L644.7,489.2 A3.6,3.6 0 1 1 644.7,484.4Z"/>
</g>
<g fill="none" stroke="#0d9fd4" stroke-width="1.5" stroke-linejoin="round">
<rect x="763.1" y="488.1" width="22.5" height="12.1"/>
<rect x="768.2" y="483.6" width="12" height="4.5"/>
<path d="M763.1,490.8 L757.5,488.8 L757.5,495.5 L763.1,496.8"/>
<path d="M785.6,491.5 L793.6,488.1 L793.6,501.5 L785.6,498.2"/>
<path d="M765.5,500.2 L787.6,520.9 L775.5,520.9"/>
</g>
<g transform="translate(112.5,662.5) rotate(20)" fill="none" stroke="#0d9fd4" stroke-width="1.6" stroke-linejoin="round">
<path d="M-12,3 L-12,-6.5 L12,-6.5 L12,-2 M12,3 L12,6.5 L-9,6.5"/>
<rect x="-6.5" y="-11.5" width="13" height="5"/>
<path d="M-12,-4.5 L-18,-8 L-18,0 L-12,-0.5"/>
<path d="M12,-2 L21,-6.5 L21,9 L12,3"/>
</g>
<g fill="none" stroke="#03234b" stroke-width="1.9" stroke-linecap="round" stroke-linejoin="round">
<path d="M204.2,640.9 L220.4,640.9 Q226,637.5 231.8,637.3 Q238,637.3 241.5,639.2 Q244.2,640.5 243.2,643 Q245,644.8 243.3,647 Q245,649 243.2,651.2 Q245,653.3 243,655.5 Q244.5,658 242.2,659.3 Q240,660.6 235.4,660.6"/>
<path d="M242.2,659.3 Q239,662.8 231.3,663.6 Q226,663 218.8,657 L205.5,657"/>
<circle cx="212.3" cy="648.7" r="5.6"/>
<path d="M212.3,645.6 L212.3,649.3 L214.8,649.3" stroke-width="1.6"/>
</g>
<path d="M209.8,641 h5 v2.4 h-5z M209.8,654.4 h5 v2.6 h-5z" fill="#03234b"/>
<g fill="none" stroke="#f0711e" stroke-width="1.7" stroke-linecap="round">
<circle cx="185.5" cy="728.2" r="3.9"/>
<path d="M184.2,714.5 A15.2,15.2 0 0 1 199.5,729.6"/>
<path d="M184.2,702.8 A26.8,26.8 0 0 1 210.9,729.6"/>
</g>
<g fill="none" stroke="#f0711e" stroke-width="1.35">
<path d="M721.6,590 L721.6,548.3 Q721.6,546.3 723.6,546.3 L743,546.3 Q745,546.3 745,548.3 L745,590"/>
<path d="M724.3,590 L724.3,550.4 Q724.3,548.4 726.3,548.4 L740.8,548.4 Q742.8,548.4 742.8,550.4 L742.8,590"/>
<path d="M733,554.2 L733,567.6 M726.3,560.9 L739.7,560.9" stroke-width="1.4"/>
</g>
<g fill="none" stroke="#0d9fd4" stroke-width="1.6" stroke-linecap="round">
<path d="M725,705.8 L725,665 L787.9,665 L787.9,713"/>
<path d="M717.6,712.6 L787.9,712.6 M717.6,712.6 Q718,718.7 723,718.7 L790.5,718.7 Q794.6,718.7 794.6,713"/>
<ellipse cx="756.4" cy="678.8" rx="6.2" ry="6.7"/>
<path d="M744.7,703.9 Q744.5,689 754.2,685.9 M758.8,685.9 Q768,689 768.4,704.4 L752.3,704.9"/>
</g>
<g fill="none" stroke="#2f8420" stroke-width="1.4" stroke-linejoin="round">
<path d="M345.2,733.8 L338.4,733.8 L338.4,716.6 L343.2,712.6 L343.2,701 L350.6,696.4 L360,699.4"/>
<path d="M350.6,696.4 L350.6,733.8 L369.2,733.8 L369.2,702.6 L364.4,700.6 L364.4,689.8 L375.2,683.4 L400.8,691.8 L400.8,734.2 L375.2,734.2 L375.2,687.4"/>
</g>
<g fill="none" stroke="#2f8420" stroke-width="1.3">
<rect x="354.0" y="701.8" width="3.2" height="4" rx="0.6"/><rect x="354.0" y="709.0" width="3.2" height="4" rx="0.6"/><rect x="354.0" y="715.4" width="3.2" height="4" rx="0.6"/><rect x="359.2" y="701.8" width="3.2" height="4" rx="0.6"/><rect x="359.2" y="709.0" width="3.2" height="4" rx="0.6"/><rect x="359.2" y="715.4" width="3.2" height="4" rx="0.6"/><rect x="364.0" y="701.8" width="3.2" height="4" rx="0.6"/><rect x="364.0" y="709.0" width="3.2" height="4" rx="0.6"/><rect x="364.0" y="715.4" width="3.2" height="4" rx="0.6"/><rect x="378.6" y="690.4" width="4.4" height="6" rx="0.7"/><rect x="378.6" y="699.2" width="4.4" height="6" rx="0.7"/><rect x="378.6" y="708.8" width="4.4" height="6" rx="0.7"/><rect x="386.2" y="690.4" width="4.4" height="6" rx="0.7"/><rect x="386.2" y="699.2" width="4.4" height="6" rx="0.7"/><rect x="386.2" y="708.8" width="4.4" height="6" rx="0.7"/><rect x="393.0" y="690.4" width="4.4" height="6" rx="0.7"/><rect x="393.0" y="699.2" width="4.4" height="6" rx="0.7"/><rect x="393.0" y="708.8" width="4.4" height="6" rx="0.7"/></g>
<rect x="18.900000000000002" y="430.15" width="274.5" height="36.7" rx="18.35" fill="none" stroke="rgba(245,240,110,0.7)" stroke-width="3.6"/>
<rect x="18.900000000000002" y="430.15" width="274.5" height="36.7" rx="18.35" fill="#ffffff" fill-opacity="0.87" stroke="#1f3b66" stroke-width="1.3"/>
<text x="39.0" y="455" fill="#348a25" font-size="22.5" textLength="234.9" lengthAdjust="spacing">Usage-Based Insurance</text>
<rect x="261.3" y="385.25" width="195.10000000000002" height="35.7" rx="17.85" fill="none" stroke="rgba(245,240,110,0.7)" stroke-width="3.6"/>
<rect x="261.3" y="385.25" width="195.10000000000002" height="35.7" rx="17.85" fill="#ffffff" fill-opacity="0.87" stroke="#1f3b66" stroke-width="1.3"/>
<text x="293.3" y="409.9" fill="#348a25" font-size="22.5" textLength="138.3" lengthAdjust="spacing">mHealth Apps</text>
<rect x="503.6" y="399.45" width="194.40000000000003" height="35.7" rx="17.85" fill="none" stroke="rgba(245,240,110,0.7)" stroke-width="3.6"/>
<rect x="503.6" y="399.45" width="194.40000000000003" height="35.7" rx="17.85" fill="#ffffff" fill-opacity="0.87" stroke="#1f3b66" stroke-width="1.3"/>
<text x="545.8" y="424.1" fill="#348a25" font-size="22.5" textLength="122.3" lengthAdjust="spacing">Gamification</text>
<rect x="697.9" y="433.95" width="255.50000000000006" height="35.39999999999999" rx="17.699999999999996" fill="none" stroke="rgba(245,240,110,0.7)" stroke-width="3.6"/>
<rect x="697.9" y="433.95" width="255.50000000000006" height="35.39999999999999" rx="17.699999999999996" fill="#ffffff" fill-opacity="0.87" stroke="#1f3b66" stroke-width="1.3"/>
<text x="715.2" y="458.5" fill="#0d9fd4" font-size="22.5" textLength="222.8" lengthAdjust="spacing">Aerial &amp; Digital Imagery</text>
<rect x="692.6" y="573.9499999999999" width="282.3" height="36.90000000000005" rx="18.450000000000024" fill="none" stroke="rgba(245,240,110,0.7)" stroke-width="3.6"/>
<rect x="692.6" y="573.9499999999999" width="282.3" height="36.90000000000005" rx="18.450000000000024" fill="#ffffff" fill-opacity="0.87" stroke="#1f3b66" stroke-width="1.3"/>
<text x="706.9" y="598.7" fill="#348a25" font-size="22.5" textLength="262.1" lengthAdjust="spacing">Customer Adherence Apps</text>
<rect x="300.6" y="616.65" width="129.8" height="27.499999999999954" rx="13.749999999999977" fill="none" stroke="rgba(245,240,110,0.7)" stroke-width="3.6"/>
<rect x="300.6" y="616.65" width="129.8" height="27.499999999999954" rx="13.749999999999977" fill="#ffffff" fill-opacity="1.0" stroke="#1f3b66" stroke-width="1.3"/>
<text x="326.1" y="637.1" fill="#b8143a" font-size="22.5" textLength="83.4" lengthAdjust="spacing">Big Data</text>
<rect x="450.6" y="658.25" width="256.2" height="35.899999999999935" rx="17.949999999999967" fill="none" stroke="rgba(245,240,110,0.7)" stroke-width="3.6"/>
<rect x="450.6" y="658.25" width="256.2" height="35.899999999999935" rx="17.949999999999967" fill="#ffffff" fill-opacity="0.87" stroke="#1f3b66" stroke-width="1.3"/>
<text x="468.8" y="684.2" fill="#03234b" font-size="22.5" textLength="223.8" lengthAdjust="spacing">Peer-to Peer Insurance</text>
<rect x="386.6" y="741.05" width="238.2" height="35.800000000000026" rx="17.900000000000013" fill="none" stroke="rgba(245,240,110,0.7)" stroke-width="3.6"/>
<rect x="386.6" y="741.05" width="238.2" height="35.800000000000026" rx="17.900000000000013" fill="#ffffff" fill-opacity="0.87" stroke="#1f3b66" stroke-width="1.3"/>
<text x="404.8" y="765.3" fill="#348a25" font-size="22.5" textLength="208.7" lengthAdjust="spacing">Non-Traditional Firms</text>
<rect x="91.6" y="747.25" width="206.3" height="36.09999999999998" rx="18.04999999999999" fill="none" stroke="rgba(245,240,110,0.7)" stroke-width="3.6"/>
<rect x="91.6" y="747.25" width="206.3" height="36.09999999999998" rx="18.04999999999999" fill="#ffffff" fill-opacity="0.87" stroke="#1f3b66" stroke-width="1.3"/>
<text x="110.2" y="771.9" fill="#f0711e" font-size="22.5" textLength="170.6" lengthAdjust="spacing">Internet of Things</text>
<rect x="700.9" y="743.9499999999999" width="200.50000000000006" height="35.50000000000007" rx="17.750000000000036" fill="none" stroke="rgba(245,240,110,0.7)" stroke-width="3.6"/>
<rect x="700.9" y="743.9499999999999" width="200.50000000000006" height="35.50000000000007" rx="17.750000000000036" fill="#ffffff" fill-opacity="0.87" stroke="#1f3b66" stroke-width="1.3"/>
<text x="724.0" y="768" fill="#0d9fd4" font-size="22.5" textLength="160.3" lengthAdjust="spacing">Cyber Insurance</text>
</svg>
</body></html>
